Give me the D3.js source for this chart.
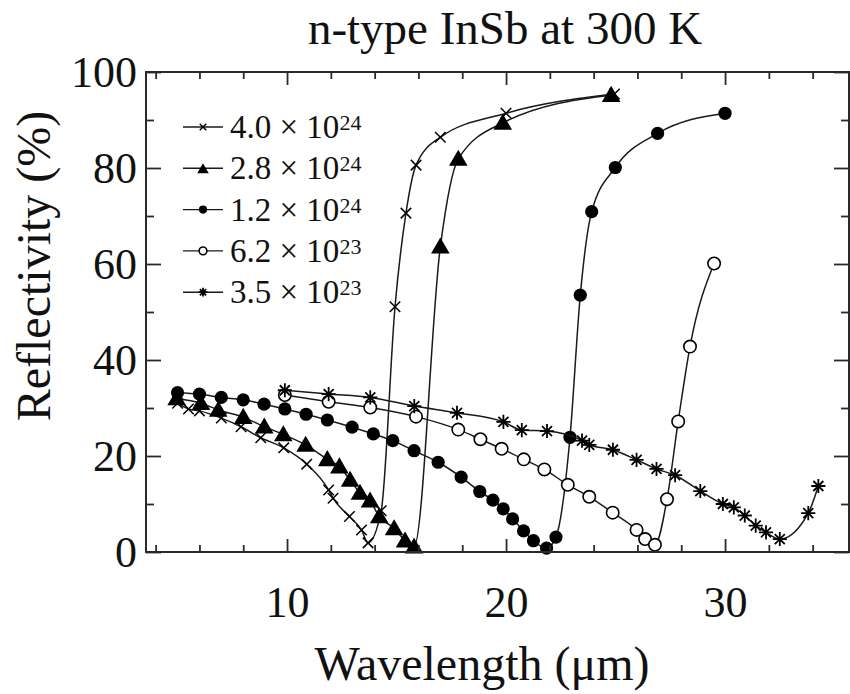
<!DOCTYPE html>
<html>
<head>
<meta charset="utf-8">
<script src="https://cdn.jsdelivr.net/npm/d3@7/dist/d3.min.js"></script>
<style>
  html, body { margin: 0; padding: 0; background: #fff; }
  svg { display: block; }
  text { font-family: "Liberation Serif", "Times New Roman", serif; fill: #111; }
</style>
</head>
<body>
<svg id="chart" width="850" height="694"></svg>
<script>
// Reflectivity spectra of n-type InSb at 300 K for five carrier densities (m^-3)
const seriesNames = ["4.0 × 10", "2.8 × 10", "1.2 × 10", "6.2 × 10", "3.5 × 10"];
const seriesExponents = ["24", "24", "24", "23", "23"];
const seriesMarkers = ["times", "triangle", "dot", "ring", "asterisk"];

// wavelength (µm) and reflectivity (%) per series
const lambda40 = [5.0, 5.5, 6.0, 7.0, 7.9, 8.8, 9.85, 10.9, 11.9, 12.1, 12.85, 13.4, 13.7, 14.3, 14.93, 15.43, 15.89, 17.0, 20.0, 24.95];
const refl40   = [31.0, 29.8, 29.4, 27.9, 26.1, 23.8, 21.7, 18.3, 12.9, 11.2, 7.4, 4.6, 1.9, 8.6, 51.1, 70.6, 80.6, 86.4, 91.4, 95.4];

const lambda28 = [4.96, 6.07, 6.86, 8.0, 8.96, 9.83, 10.85, 11.84, 12.39, 12.88, 13.33, 13.79, 14.21, 14.89, 15.39, 15.8, 17.0, 17.82, 19.85, 24.8];
const refl28   = [32.0, 31.0, 29.6, 28.1, 26.1, 24.5, 22.3, 19.3, 17.8, 15.0, 12.3, 10.7, 7.4, 4.9, 2.35, 1.1, 63.6, 81.9, 89.4, 95.2];

const lambda12 = [5.0, 6.0, 7.0, 8.0, 8.95, 9.9, 10.87, 11.84, 12.97, 13.94, 14.83, 15.8, 16.9, 17.95, 18.8, 19.4, 19.87, 20.3, 20.8, 21.25, 21.85, 22.28, 22.92, 23.39, 23.91, 24.99, 26.92, 30.0];
const refl12   = [33.2, 32.9, 32.2, 31.7, 30.8, 29.8, 28.7, 27.5, 26.0, 24.6, 23.2, 21.1, 18.7, 15.6, 12.6, 10.8, 9.0, 6.9, 4.4, 2.35, 0.8, 3.1, 23.9, 53.5, 70.9, 80.1, 87.2, 91.4];

const lambda62 = [9.9, 11.9, 13.8, 15.89, 17.82, 18.83, 19.8, 20.81, 21.75, 22.82, 23.8, 24.87, 25.96, 26.35, 26.8, 27.35, 27.86, 28.4, 29.5];
const refl62   = [32.7, 31.3, 30.1, 28.2, 25.5, 23.5, 21.5, 19.3, 17.2, 14.0, 11.5, 8.2, 4.6, 2.7, 1.5, 11.0, 27.2, 42.8, 60.1];

const lambda35 = [9.9, 11.9, 13.8, 15.81, 17.76, 19.88, 20.72, 21.87, 23.47, 23.8, 24.88, 25.96, 26.87, 27.72, 28.87, 29.9, 30.4, 30.9, 31.4, 31.87, 32.5, 33.8, 34.26];
const refl35   = [33.7, 32.9, 32.2, 30.4, 29.0, 27.1, 25.4, 25.2, 23.2, 22.3, 21.3, 19.2, 17.3, 16.0, 12.7, 10.0, 9.3, 7.6, 5.5, 4.1, 2.7, 8.1, 13.75];

const seriesLambda = [lambda40, lambda28, lambda12, lambda62, lambda35];
const seriesRefl = [refl40, refl28, refl12, refl62, refl35];

const xMajorTicks = [10, 20, 30];
const xMinorTicks = [4, 6, 8, 12, 14, 16, 18, 22, 24, 26, 28, 32, 34];
const yMajorTicks = [0, 20, 40, 60, 80, 100];
const yMinorTicks = [10, 30, 50, 70, 90];

const svg = d3.select("#chart");
const plot = { left: 146, right: 849, top: 72, bottom: 552 };

const x = d3.scaleLinear().domain([3.56, 35.66]).range([plot.left, plot.right]);
const y = d3.scaleLinear().domain([0, 100]).range([plot.bottom, plot.top]);

const axisColor = "#2a2a2a";

// Custom eight-armed asterisk symbol
const asteriskSymbol = {
  draw(ctx, size) {
    const r = Math.sqrt(size) / 2;
    const d = r * Math.SQRT1_2;
    ctx.moveTo(-r, 0); ctx.lineTo(r, 0);
    ctx.moveTo(0, -r); ctx.lineTo(0, r);
    ctx.moveTo(-d, -d); ctx.lineTo(d, d);
    ctx.moveTo(-d, d); ctx.lineTo(d, -d);
  }
};
const timesSymbol = {
  draw(ctx, size) {
    const r = Math.sqrt(size) / 2;
    ctx.moveTo(-r, -r); ctx.lineTo(r, r);
    ctx.moveTo(-r, r); ctx.lineTo(r, -r);
  }
};

function drawMarker(sel, kind, scale) {
  const s = scale || 1;
  if (kind === "dot") {
    sel.append("circle").attr("r", 6.6 * s).attr("fill", "#000");
  } else if (kind === "ring") {
    sel.append("circle").attr("r", 6.2 * s).attr("fill", "#fff")
      .attr("stroke", "#000").attr("stroke-width", 1.6);
  } else if (kind === "triangle") {
    sel.append("path").attr("d", d3.symbol().type(d3.symbolTriangle).size(150 * s * s)())
      .attr("transform", "translate(0,1.5)").attr("fill", "#000");
  } else if (kind === "times") {
    sel.append("path").attr("d", d3.symbol().type(timesSymbol).size(110 * s * s)())
      .attr("fill", "none").attr("stroke", "#000").attr("stroke-width", 1.5);
  } else if (kind === "asterisk") {
    sel.append("path").attr("d", d3.symbol().type(asteriskSymbol).size(200 * s * s)())
      .attr("fill", "none").attr("stroke", "#000").attr("stroke-width", 1.8);
  }
}

// Series curves and markers
const line = d3.line().x(d => x(d[0])).y(d => y(d[1])).curve(d3.curveMonotoneX);
const seriesG = svg.append("g");
seriesLambda.forEach((lam, i) => {
  const pts = lam.map((v, j) => [v, seriesRefl[i][j]]);
  seriesG.append("path").datum(pts).attr("d", line)
    .attr("fill", "none").attr("stroke", "#1a1a1a").attr("stroke-width", 1.5);
  const m = seriesG.append("g").selectAll("g").data(pts).join("g")
    .attr("transform", d => `translate(${x(d[0])},${y(d[1])})`);
  m.each(function () { drawMarker(d3.select(this), seriesMarkers[i]); });
});

// Frame and inward ticks on all four sides
svg.append("rect").attr("x", plot.left).attr("y", plot.top)
  .attr("width", plot.right - plot.left).attr("height", plot.bottom - plot.top)
  .attr("fill", "none").attr("stroke", axisColor).attr("stroke-width", 2);

function styleAxis(g) {
  g.select(".domain").remove();
  g.selectAll(".tick line").attr("stroke", axisColor).attr("stroke-width", 1.8);
}

svg.append("g").attr("transform", `translate(0,${plot.bottom})`)
  .call(d3.axisBottom(x).tickValues(xMinorTicks).tickSize(-7).tickFormat(""))
  .call(styleAxis);
const xMajor = svg.append("g").attr("transform", `translate(0,${plot.bottom})`)
  .call(d3.axisBottom(x).tickValues(xMajorTicks).tickSize(-13).tickFormat(d3.format("d")))
  .call(styleAxis);
xMajor.selectAll(".tick text").attr("y", 65).attr("dy", null)
  .style("font-size", "44px").attr("fill", "#111");

svg.append("g").attr("transform", `translate(0,${plot.top})`)
  .call(d3.axisTop(x).tickValues(xMinorTicks).tickSize(-7).tickFormat(""))
  .call(styleAxis);
svg.append("g").attr("transform", `translate(0,${plot.top})`)
  .call(d3.axisTop(x).tickValues(xMajorTicks).tickSize(-13).tickFormat(""))
  .call(styleAxis);

svg.append("g").attr("transform", `translate(${plot.left},0)`)
  .call(d3.axisLeft(y).tickValues(yMinorTicks).tickSize(-8).tickFormat(""))
  .call(styleAxis);
const yMajor = svg.append("g").attr("transform", `translate(${plot.left},0)`)
  .call(d3.axisLeft(y).tickValues(yMajorTicks).tickSize(-15).tickFormat(d3.format("d")))
  .call(styleAxis);
yMajor.selectAll(".tick text").attr("x", -9).attr("dy", "0.34em")
  .style("font-size", "44px").attr("fill", "#111");

svg.append("g").attr("transform", `translate(${plot.right},0)`)
  .call(d3.axisRight(y).tickValues(yMinorTicks).tickSize(-8).tickFormat(""))
  .call(styleAxis);
svg.append("g").attr("transform", `translate(${plot.right},0)`)
  .call(d3.axisRight(y).tickValues(yMajorTicks).tickSize(-15).tickFormat(""))
  .call(styleAxis);

// Titles
svg.append("text").attr("x", 505).attr("y", 44).attr("text-anchor", "middle")
  .style("font-size", "47px").text("n-type InSb at 300 K");
svg.append("text").attr("x", 482).attr("y", 680).attr("text-anchor", "middle")
  .style("font-size", "48px").text("Wavelength (μm)");
svg.append("text").attr("transform", "translate(50,266) rotate(-90)")
  .attr("text-anchor", "middle").style("font-size", "48px").text("Reflectivity (%)");

// Legend
const legend = svg.append("g");
seriesNames.forEach((name, i) => {
  const by = 138 + i * 41.3;
  const row = legend.append("g");
  row.append("line").attr("x1", 183).attr("x2", 223).attr("y1", by - 11).attr("y2", by - 11)
    .attr("stroke", "#1a1a1a").attr("stroke-width", 1.4);
  const mk = row.append("g").attr("transform", `translate(203,${by - 11})`);
  drawMarker(mk, seriesMarkers[i], 0.62);
  const t = row.append("text").attr("x", 230).attr("y", by).style("font-size", "33px");
  t.append("tspan").text(name);
  t.append("tspan").attr("dy", -8).style("font-size", "22px").text(seriesExponents[i]);
});
</script>
</body>
</html>
